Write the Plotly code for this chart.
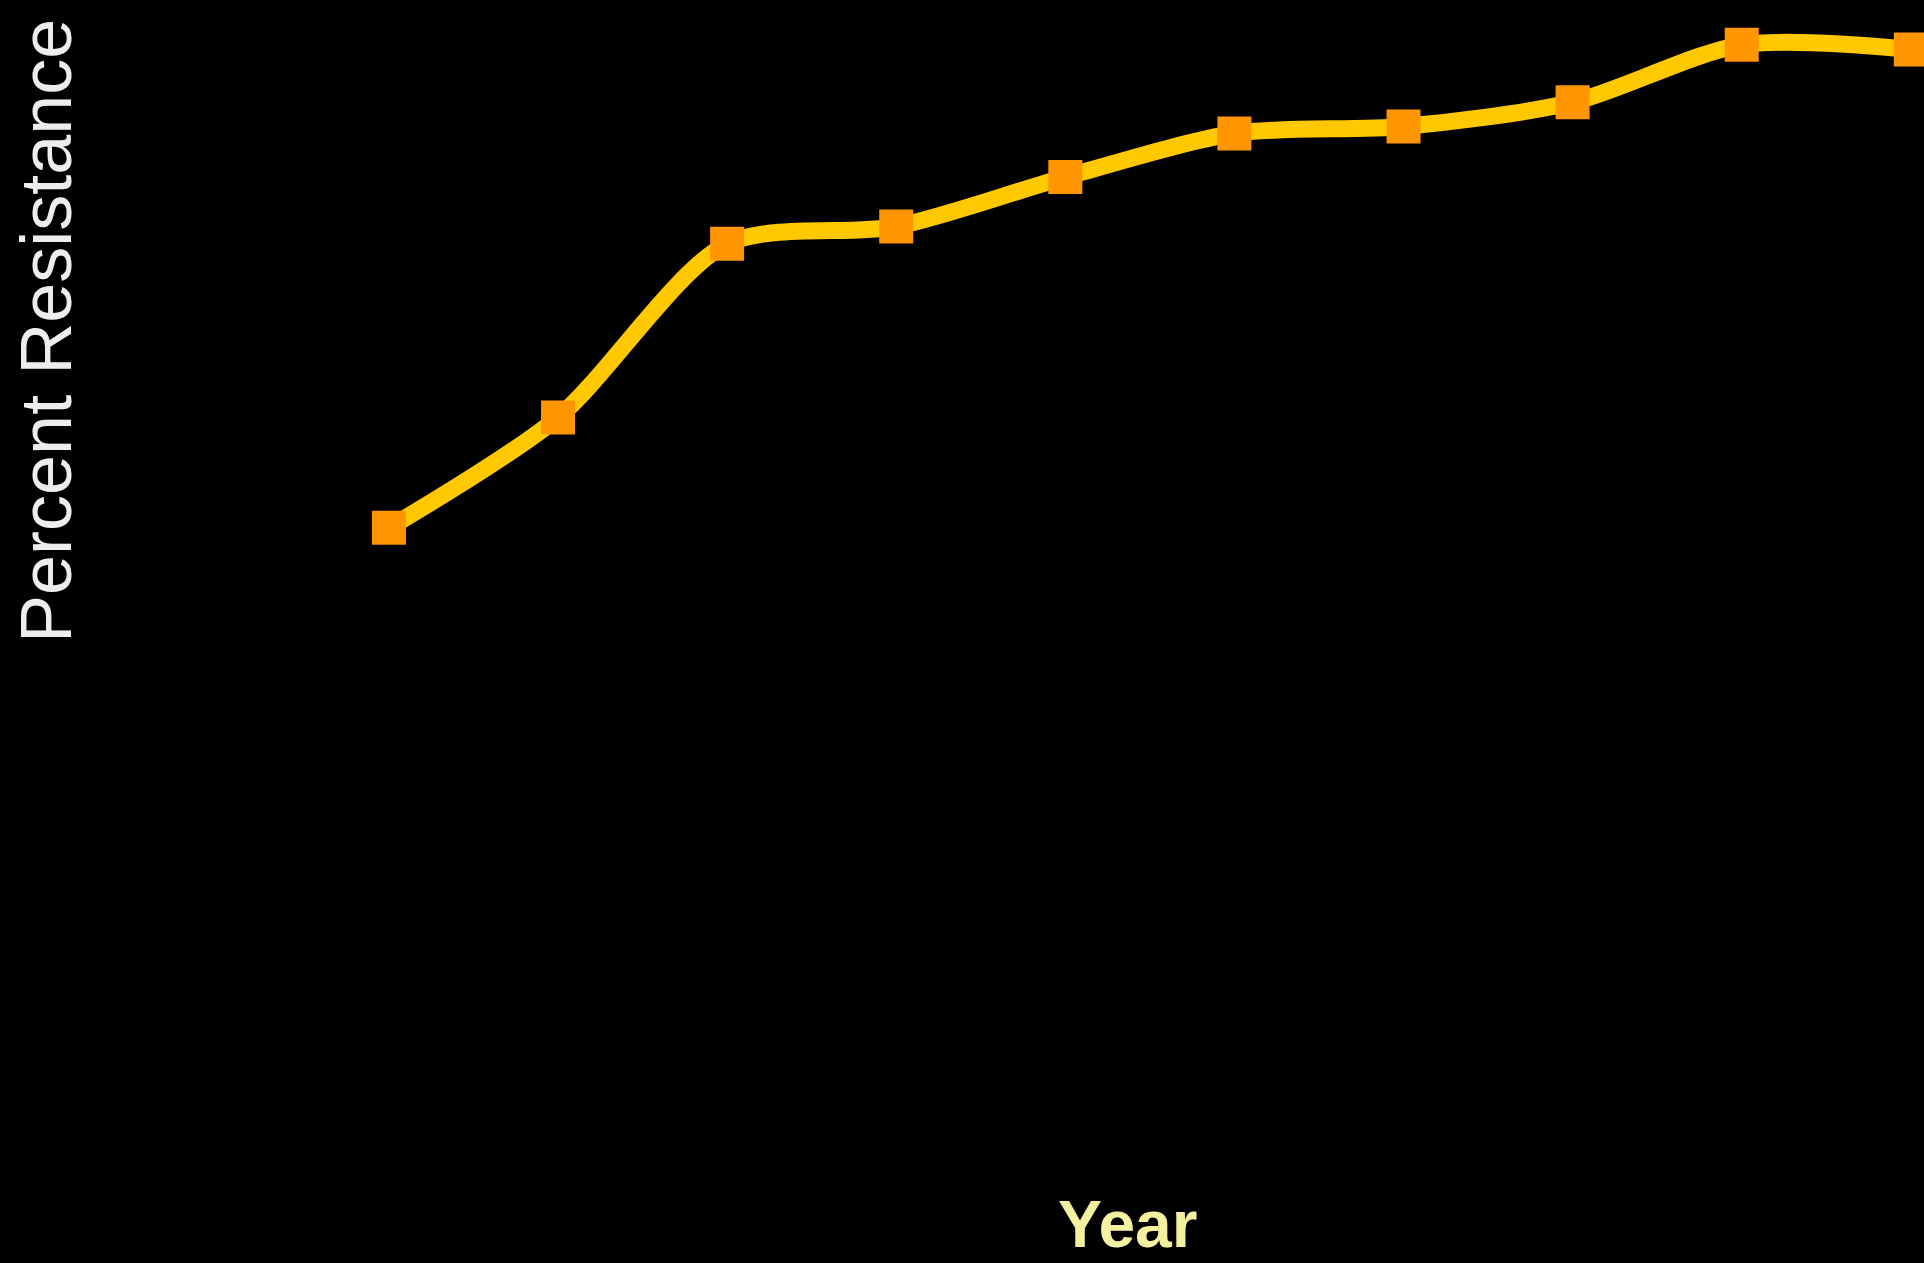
import plotly.graph_objects as go

# Survey years (no tick labels are shown on the axis)
years = [1991, 1992, 1993, 1994, 1995, 1996, 1997, 1998, 1999, 2000]
# Percent of isolates resistant in each year
resistance = [54.1, 63.7, 78.8, 80.3, 84.6, 88.4, 89.0, 91.1, 96.1, 95.7]

x_title = "Year"
y_title = "Percent Resistance"

fig = go.Figure()
fig.add_trace(go.Scatter(
    x=years,
    y=resistance,
    mode="lines+markers",
    line=dict(color="#FFC800", width=17, shape="spline", smoothing=0.8),
    marker=dict(symbol="square", size=34, color="#FF9500",
                line=dict(width=0)),
    cliponaxis=False,
    hoverinfo="skip",
))

fig.update_layout(
    width=1924,
    height=1263,
    paper_bgcolor="#000000",
    plot_bgcolor="#000000",
    margin=dict(l=0, r=0, t=0, b=0),
    showlegend=False,
    xaxis=dict(range=[years[0] - 2.30, years[0] + 9.078], visible=False),
    yaxis=dict(range=[-9.83, 100.0], visible=False),
    annotations=[
        dict(text=y_title, xref="paper", yref="paper",
             x=46 / 1924, y=1 - 331 / 1263, xanchor="center", yanchor="middle",
             textangle=-90, showarrow=False,
             font=dict(family="Liberation Sans, Arial, sans-serif", size=72,
                       color="#EDEDED")),
        dict(text=f"<b>{x_title}</b>", xref="paper", yref="paper",
             x=1127 / 1924, y=1 - 1224 / 1263, xanchor="center", yanchor="middle",
             showarrow=False, borderpad=0,
             font=dict(family="Liberation Sans, Arial, sans-serif", size=66,
                       color="#F3F0A0")),
    ],
)

fig.write_html("out.html")
